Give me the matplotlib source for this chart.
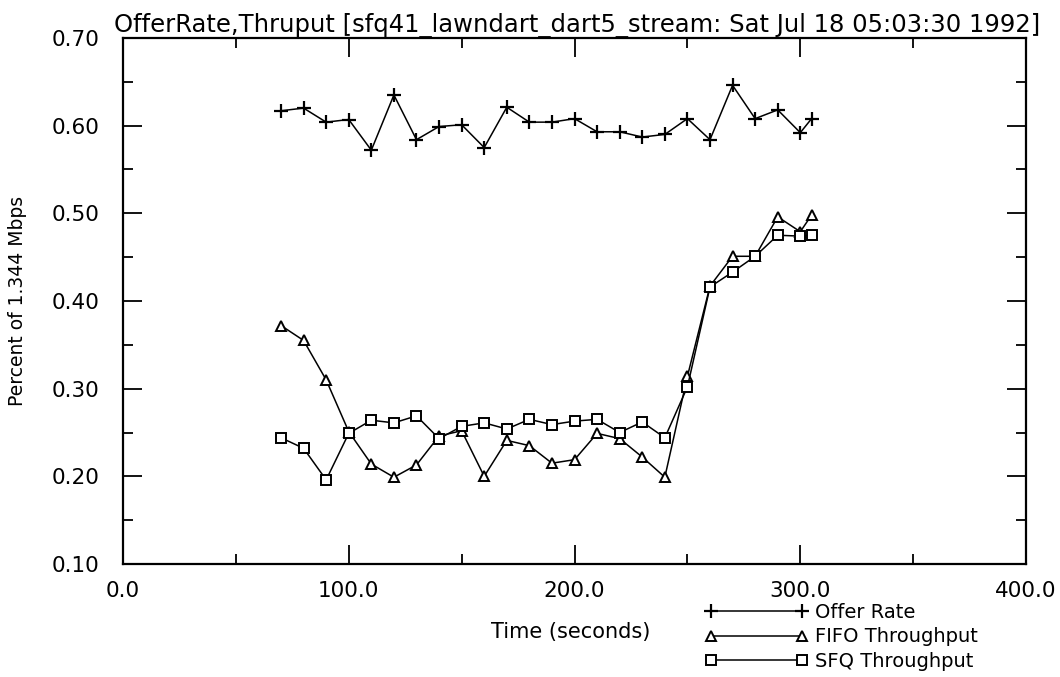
import matplotlib
matplotlib.use("Agg")
import matplotlib.pyplot as plt
from matplotlib.ticker import MultipleLocator, FormatStrFormatter

time = [70, 80, 90, 100, 110, 120, 130, 140, 150, 160, 170, 180, 190, 200,
        210, 220, 230, 240, 250, 260, 270, 280, 290, 300, 305]
offer_rate = [0.617, 0.620, 0.604, 0.607, 0.572, 0.635, 0.584, 0.599, 0.601,
              0.575, 0.621, 0.604, 0.604, 0.608, 0.593, 0.593, 0.587, 0.590,
              0.608, 0.584, 0.646, 0.608, 0.618, 0.592, 0.608]
fifo = [0.372, 0.355, 0.310, 0.251, 0.214, 0.199, 0.213, 0.246, 0.252,
        0.200, 0.241, 0.235, 0.215, 0.219, 0.249, 0.243, 0.222, 0.199,
        0.314, 0.417, 0.451, 0.451, 0.496, 0.479, 0.498]
sfq = [0.244, 0.232, 0.196, 0.249, 0.264, 0.261, 0.269, 0.243, 0.257,
       0.261, 0.254, 0.265, 0.259, 0.263, 0.265, 0.250, 0.262, 0.244,
       0.302, 0.416, 0.433, 0.451, 0.475, 0.474, 0.475]

title = "OfferRate,Thruput [sfq41_lawndart_dart5_stream: Sat Jul 18 05:03:30 1992]"

plt.rcParams['font.family'] = ['DejaVu Sans']
fig = plt.figure(figsize=(10.6, 6.77), dpi=100)
ax = fig.add_axes([0.116, 0.1669, 0.852, 0.777])

lw = 1.1
ax.plot(time, offer_rate, color='black', lw=lw, marker='+', ms=10, mew=1.6,
        label='Offer Rate')
ax.plot(time, fifo, color='black', lw=lw, marker='^', ms=6.5, mew=1.4,
        mfc='white', label='FIFO Throughput')
ax.plot(time, sfq, color='black', lw=lw, marker='s', ms=6.5, mew=1.4,
        mfc='white', label='SFQ Throughput')

ax.set_xlim(0, 400)
ax.set_ylim(0.10, 0.70)
ax.xaxis.set_major_locator(MultipleLocator(100))
ax.xaxis.set_minor_locator(MultipleLocator(50))
ax.yaxis.set_major_locator(MultipleLocator(0.10))
ax.yaxis.set_minor_locator(MultipleLocator(0.05))
ax.xaxis.set_major_formatter(FormatStrFormatter('%.1f'))
ax.yaxis.set_major_formatter(FormatStrFormatter('%.2f'))
ax.tick_params(which='both', direction='in', top=True, right=True,
               labelsize=15.5, width=1.3, colors='black')
ax.tick_params(which='major', length=14)
ax.tick_params(axis='y', which='major', pad=17)
ax.tick_params(axis='x', which='major', pad=12)
ax.tick_params(which='minor', length=7)
for s in ax.spines.values():
    s.set_linewidth(1.6)

ax.set_title(title, fontsize=17.5, pad=4, x=0.503)
fig.text(18 / 1060, 0.555, 'Percent of 1.344 Mbps', fontsize=13.5,
         rotation=90, ha='center', va='center')
fig.text(0.538, 0.066, 'Time (seconds)', fontsize=15, ha='center', va='center')

fig.legend(loc='upper left', bbox_to_anchor=(0.665, 0.11), frameon=False,
           numpoints=2, handlelength=5.3, handletextpad=0.35, labelspacing=0.3,
           fontsize=14, borderaxespad=0, borderpad=0)

fig.savefig('out.png', dpi=100)
